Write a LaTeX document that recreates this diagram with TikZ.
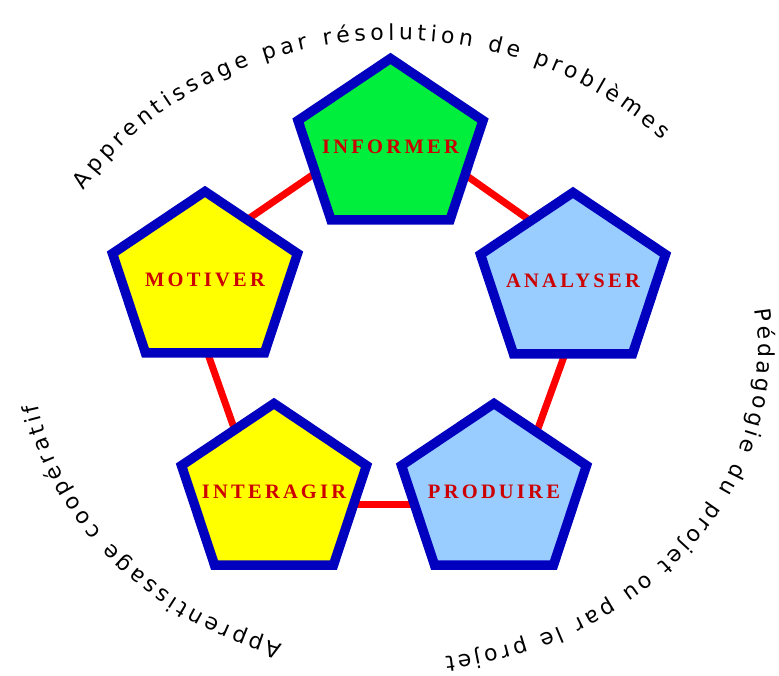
\documentclass[tikz,border=0pt]{standalone}
\usepackage{fontspec}
\setmainfont{Liberation Serif}
\newfontfamily\arcfont{DejaVu Sans}
\newfontfamily\labfont[LetterSpace=16]{Liberation Serif}
\usetikzlibrary{decorations.text}
\definecolor{pblue}{RGB}{0,0,190}
\definecolor{pgreen}{RGB}{0,238,60}
\definecolor{pyellow}{RGB}{255,255,0}
\definecolor{plight}{RGB}{153,204,255}
\definecolor{ptext}{RGB}{204,0,0}
\definecolor{pline}{RGB}{255,0,0}
\tikzset{
  pentshape/.style={draw=pblue, line width=9.5pt, line join=miter},
  lab/.style={text=ptext, font=\labfont\bfseries\fontsize{20.5}{20}\selectfont, inner sep=0pt},
  link/.style={draw=pline, line width=7pt},
}
\newcommand\pentagone[5]{%
  \begin{scope}[shift={(#2,#3)}]
    \draw[pentshape, fill=#4] (0,-6.5) -- (92.5,-68.5) -- (59.5,-168) -- (-59.5,-168) -- (-92.5,-68.5) -- cycle;
    \node[lab] (#1) at (0,-95) {#5};
  \end{scope}}
\begin{document}
\begin{tikzpicture}[x=1pt,y=1pt]
\useasboundingbox (0,0) rectangle (779,675);
% connector end points
\coordinate (l1a) at (235,447);
\coordinate (l1b) at (330,512);
\coordinate (l2a) at (450,511);
\coordinate (l2b) at (545,444);
\coordinate (l3a) at (570,335);
\coordinate (l3b) at (532,230);
\coordinate (l4a) at (340,170);
\coordinate (l4b) at (420,170);
\coordinate (l5a) at (203,335);
\coordinate (l5b) at (240,230);
\draw[link] (l1a) -- (l1b);
\draw[link] (l2a) -- (l2b);
\draw[link] (l3a) -- (l3b);
\draw[link] (l4a) -- (l4b);
\draw[link] (l5a) -- (l5b);
% pentagons
\pentagone{inf}{390.5}{623}{pgreen}{INFORMER}
\pentagone{mot}{205}{490}{pyellow}{MOTIVER}
\pentagone{ana}{573}{489}{plight}{ANALYSER}
\pentagone{int}{274}{278}{pyellow}{INTERA\kern3pt GIR}
\pentagone{pro}{494}{278}{plight}{PROD\kern3pt UIRE}
% curved texts
\path[decorate, decoration={text along path, text align={fit to path},
  text={|\arcfont\fontsize{22}{24}\selectfont|Apprentissage par résolution de problèmes}}]
  (395,325) ++(149:363 and 310) arc[start angle=149, end angle=42.6, x radius=363, y radius=310];
\path[decorate, decoration={text along path, text align={fit to path},
  text={|\arcfont\fontsize{22}{24}\selectfont|Pédagogie du projet ou par le projet}}]
  (395,325) ++(7.5:363 and 310) arc[start angle=7.5, end angle=-82, x radius=363, y radius=310];
\path[decorate, decoration={text along path, text align={fit to path},
  text={|\arcfont\fontsize{22}{24}\selectfont|Apprentissage coopératif}}]
  (395,325) ++(252:363 and 310) arc[start angle=252, end angle=190, x radius=363, y radius=310];
\end{tikzpicture}
\end{document}
